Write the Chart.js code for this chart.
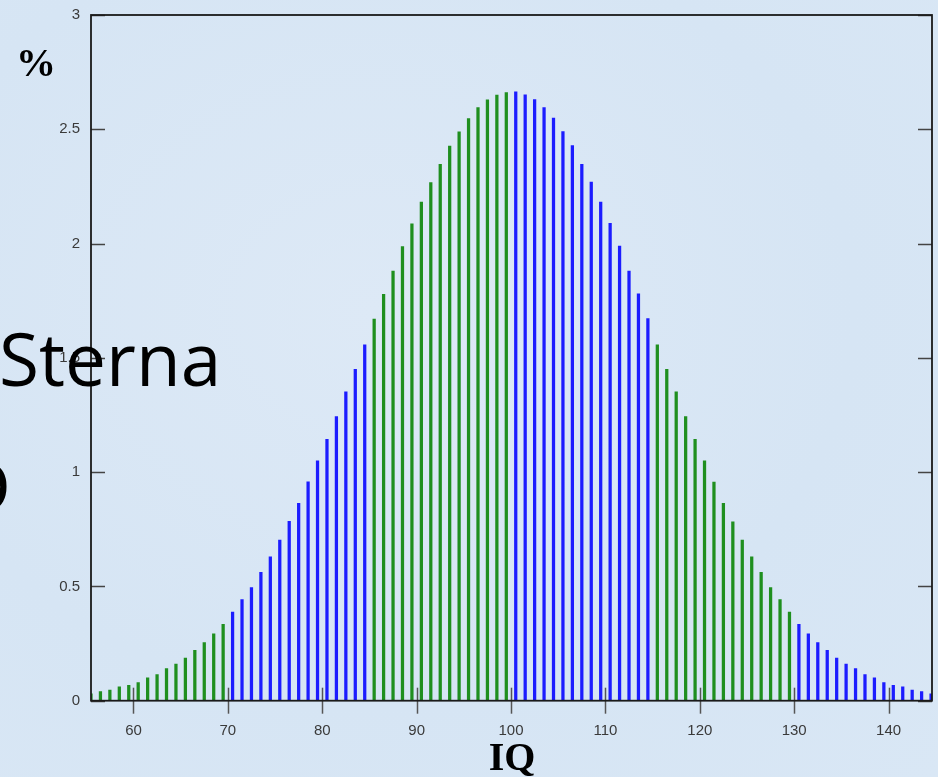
<!DOCTYPE html>
<html lang="sv">
<head>
<meta charset="UTF-8">
<title>IQ</title>
<script src="https://cdn.jsdelivr.net/npm/chart.js"></script>
<style>
  html, body { margin: 0; padding: 0; overflow: hidden; background: #d9e7f5; }
  #wrap { width: 938px; height: 777px; position: relative;
          background: radial-gradient(ellipse at 40% 40%, #dde9f6 0%, #d6e5f4 60%, #d9e7f5 100%); }
</style>
</head>
<body>
<div id="wrap"><canvas id="iqChart"></canvas></div>
<script>
// IQ points (bar centres) and share of population in %
const iqPoints = [
  55.5, 56.5, 57.5, 58.5, 59.5, 60.5, 61.5, 62.5, 63.5, 64.5, 65.5, 66.5, 67.5, 68.5, 69.5,
  70.5, 71.5, 72.5, 73.5, 74.5, 75.5, 76.5, 77.5, 78.5, 79.5, 80.5, 81.5, 82.5, 83.5, 84.5,
  85.5, 86.5, 87.5, 88.5, 89.5, 90.5, 91.5, 92.5, 93.5, 94.5, 95.5, 96.5, 97.5, 98.5, 99.5,
  100.5, 101.5, 102.5, 103.5, 104.5, 105.5, 106.5, 107.5, 108.5, 109.5, 110.5, 111.5, 112.5, 113.5, 114.5,
  115.5, 116.5, 117.5, 118.5, 119.5, 120.5, 121.5, 122.5, 123.5, 124.5, 125.5, 126.5, 127.5, 128.5, 129.5,
  130.5, 131.5, 132.5, 133.5, 134.5, 135.5, 136.5, 137.5, 138.5, 139.5, 140.5, 141.5, 142.5, 143.5, 144.5
];
const percentValues = [
  0.03, 0.04, 0.047, 0.061, 0.067, 0.079, 0.10, 0.114, 0.14, 0.16, 0.187, 0.22, 0.254, 0.293, 0.334,
  0.388, 0.442, 0.495, 0.562, 0.629, 0.703, 0.785, 0.864, 0.958, 1.05, 1.144, 1.243, 1.351, 1.45, 1.557,
  1.67, 1.778, 1.88, 1.987, 2.086, 2.181, 2.267, 2.347, 2.427, 2.489, 2.547, 2.595, 2.629, 2.65, 2.661,
  2.664, 2.651, 2.63, 2.595, 2.549, 2.49, 2.429, 2.347, 2.269, 2.182, 2.088, 1.989, 1.88, 1.78, 1.672,
  1.557, 1.45, 1.351, 1.243, 1.144, 1.05, 0.957, 0.864, 0.783, 0.703, 0.629, 0.562, 0.495, 0.442, 0.388,
  0.334, 0.293, 0.254, 0.22, 0.187, 0.16, 0.14, 0.114, 0.10, 0.079, 0.067, 0.061, 0.047, 0.04, 0.03
];
// band limits: green / blue alternate every 15 points
const bandEdges = [70, 85, 100, 115, 130];
const xTickValues = [60, 70, 80, 90, 100, 110, 120, 130, 140];
const yTickValues = [0, 0.5, 1, 1.5, 2, 2.5, 3];

const GREEN = '#1f8f1f';
const BLUE = '#1c1cff';

function bandColor(x) {
  let n = 0;
  bandEdges.forEach(e => { if (x > e) n++; });
  return n % 2 === 0 ? GREEN : BLUE;
}

const framePlugin = {
  id: 'frame',
  afterDatasetsDraw(chart) {
    const { ctx, chartArea: a, scales } = chart;
    ctx.save();
    // inward ticks on both y sides
    ctx.strokeStyle = '#444';
    ctx.lineWidth = 1.5;
    scales.y.ticks.forEach(t => {
      const y = Math.round(scales.y.getPixelForValue(t.value)) + 0.5;
      ctx.beginPath();
      ctx.moveTo(a.left, y); ctx.lineTo(a.left + 14, y);
      ctx.moveTo(a.right, y); ctx.lineTo(a.right - 14, y);
      ctx.stroke();
    });
    ctx.strokeStyle = '#555';
    scales.x.ticks.forEach(t => {
      const x = Math.round(scales.x.getPixelForValue(t.value)) + 0.5;
      ctx.beginPath();
      ctx.moveTo(x, a.bottom - 13); ctx.lineTo(x, a.bottom + 13);
      ctx.stroke();
    });
    // box
    ctx.strokeStyle = '#1a1a1a';
    ctx.lineWidth = 1.8;
    ctx.strokeRect(a.left, a.top, a.right - a.left, a.bottom - a.top);
    ctx.restore();
  },
  afterDraw(chart) {
    const { ctx } = chart;
    ctx.save();
    ctx.fillStyle = '#000';
    ctx.font = 'bold 40px "Liberation Serif"';
    ctx.textAlign = 'left';
    ctx.textBaseline = 'alphabetic';
    ctx.fillText('%', 16, 76);

    ctx.textAlign = 'center';
    ctx.fillText('IQ', 512, 770);

    // slide text lying on top of the chart
    ctx.font = '73px "Open Sans"';
    ctx.textAlign = 'left';
    ctx.fillText('Sterna', -1, 386);
    const m = ctx.measureText('D');
    ctx.fillText('D', 7 - m.actualBoundingBoxRight, 513);
    ctx.restore();
  }
};

new Chart(document.getElementById('iqChart'), {
  type: 'bar',
  data: {
    datasets: [{
      data: iqPoints.map((x, i) => ({ x: x, y: percentValues[i] })),
      backgroundColor: iqPoints.map(bandColor),
      borderWidth: 0,
      barThickness: 2.6
    }]
  },
  options: {
    responsive: true,
    maintainAspectRatio: false,
    animation: false,
    layout: { padding: { top: 15, right: 6, left: 0, bottom: 0 } },
    plugins: { legend: { display: false }, tooltip: { enabled: false } },
    scales: {
      x: {
        type: 'linear',
        offset: false,
        min: 55.5,
        max: 144.6,
        afterBuildTicks: s => { s.ticks = xTickValues.map(v => ({ value: v })); },
        afterFit: s => { s.height = 76.3; s.paddingLeft = 0; s.paddingRight = 0; },
        grid: { display: false, drawTicks: false },
        border: { display: false },
        ticks: { color: '#3a3a3a', padding: 21, font: { family: 'Liberation Sans', size: 15 } }
      },
      y: {
        min: 0,
        max: 3,
        afterBuildTicks: s => { s.ticks = yTickValues.map(v => ({ value: v })); },
        afterFit: s => { s.width = 91; s.paddingTop = 0; s.paddingBottom = 0; },
        grid: { display: false, drawTicks: false },
        border: { display: false },
        ticks: {
          color: '#3a3a3a', padding: 11, font: { family: 'Liberation Sans', size: 15 },
          callback: v => String(v)
        }
      }
    }
  },
  plugins: [framePlugin]
});
</script>
</body>
</html>
